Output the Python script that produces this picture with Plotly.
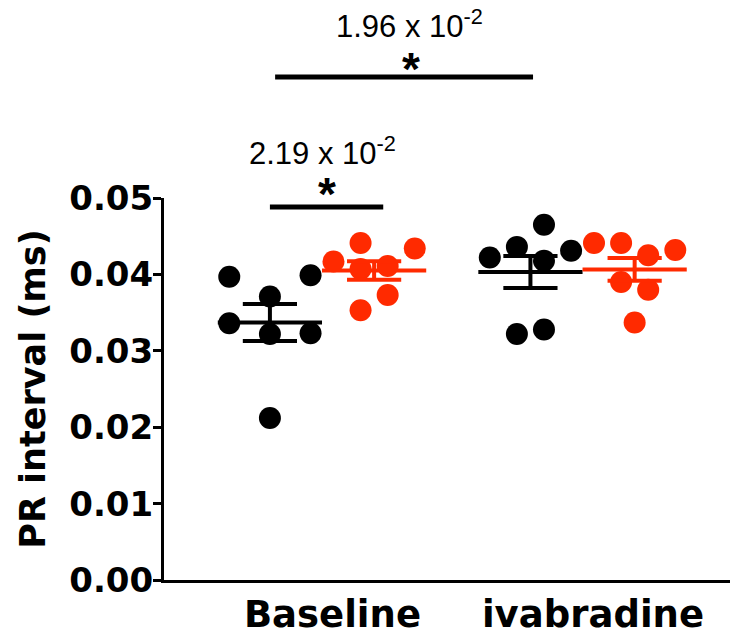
import numpy as np
import plotly.graph_objects as go

# ---------------- data ----------------
groups = ["Baseline", "ivabradine"]
baseline_black = [0.0397, 0.0399, 0.0371, 0.0336, 0.0322, 0.0323, 0.0212]
baseline_red = [0.0417, 0.0441, 0.0434, 0.0407, 0.0411, 0.0373, 0.0353]
ivabradine_black = [0.0422, 0.0436, 0.0465, 0.0418, 0.0431, 0.0322, 0.0328]
ivabradine_red = [0.0441, 0.0441, 0.0425, 0.0432, 0.0390, 0.0380, 0.0337]
y_ticks = [0.00, 0.01, 0.02, 0.03, 0.04, 0.05]
y_tick_labels = ["0.00", "0.01", "0.02", "0.03", "0.04", "0.05"]
p_top = "1.96 x 10<sup>-2</sup>"
p_low = "2.19 x 10<sup>-2</sup>"
y_title = "PR interval (ms)"

# ---------------- layout helpers (positions / styles) ----------------
BLACK = "#000000"
RED = "#ff2a00"
group_pos = [1.0, 2.0]
side_off = {"black": -0.2, "red": 0.2}
jit_step = 0.052
jitter = {
    ("Baseline", "black"): [-3, 3, 0, -3, 0, 3, 0],
    ("Baseline", "red"): [-3, -1, 3, -1, 1, 1, -1],
    ("ivabradine", "black"): [-3, -1, 1, 1, 3, -1, 1],
    ("ivabradine", "red"): [-3, -1, 1, 3, -1, 1, 0],
}
values = {
    ("Baseline", "black"): baseline_black,
    ("Baseline", "red"): baseline_red,
    ("ivabradine", "black"): ivabradine_black,
    ("ivabradine", "red"): ivabradine_red,
}
colors = {"black": BLACK, "red": RED}

fig = go.Figure()

# points
for gi, g in enumerate(groups):
    for side in ["black", "red"]:
        c = group_pos[gi] + side_off[side]
        v = values[(g, side)]
        xs = [c + j * jit_step for j in jitter[(g, side)]]
        fig.add_trace(go.Scatter(
            x=xs, y=v, mode="markers",
            marker=dict(size=22, color=colors[side], line=dict(width=0)),
            cliponaxis=False, showlegend=False, hoverinfo="y"))

# mean +/- SEM
for gi, g in enumerate(groups):
    for side in ["black", "red"]:
        c = group_pos[gi] + side_off[side]
        v = np.array(values[(g, side)])
        m = v.mean()
        sem = v.std(ddof=1) / np.sqrt(len(v))
        hw, cw = 0.2, 0.104
        xs = [c - hw, c + hw, None, c, c, None, c - cw, c + cw, None, c - cw, c + cw]
        ys = [m, m, None, m - sem, m + sem, None, m - sem, m - sem, None, m + sem, m + sem]
        fig.add_trace(go.Scatter(
            x=xs, y=ys, mode="lines",
            line=dict(color=colors[side], width=4),
            cliponaxis=False, showlegend=False, hoverinfo="skip"))

# significance bars
fig.add_shape(type="line", xref="x", yref="paper", x0=0.82, x1=1.81, y0=0.8672, y1=0.8672,
              line=dict(color=BLACK, width=5))
fig.add_shape(type="line", xref="x", yref="paper", x0=0.80, x1=1.235, y0=0.6431, y1=0.6431,
              line=dict(color=BLACK, width=5))

txt_font = dict(family="Liberation Sans, Arial", size=31, color=BLACK)
ast_font = dict(family="Liberation Sans, Arial", size=46, color=BLACK, weight="bold")
fig.add_annotation(x=1.336, y=0.959, xref="x", yref="paper", text=p_top, showarrow=False,
                   font=txt_font, xanchor="center", yanchor="middle")
fig.add_annotation(x=1.342, y=0.881, xref="x", yref="paper", text="*", showarrow=False,
                   font=ast_font, xanchor="center", yanchor="middle")
fig.add_annotation(x=1.0, y=0.740, xref="x", yref="paper", text=p_low, showarrow=False,
                   font=txt_font, xanchor="center", yanchor="middle")
fig.add_annotation(x=1.02, y=0.666, xref="x", yref="paper", text="*", showarrow=False,
                   font=ast_font, xanchor="center", yanchor="middle")

bold = dict(family="DejaVu Sans", color=BLACK, weight="bold")
fig.update_layout(
    width=730, height=639,
    margin=dict(l=164, r=0, t=0, b=59, autoexpand=False),
    paper_bgcolor="white", plot_bgcolor="white",
    xaxis=dict(range=[0.3935, 2.566], showline=True, linewidth=3, linecolor=BLACK,
               ticks="", tickvals=[1.04, 2.04], ticktext=groups,
               tickfont=dict(size=37, **bold), showgrid=False, zeroline=False,
               fixedrange=True),
    yaxis=dict(domain=[0, 382 / 580], range=[0, 0.05], showline=True, linewidth=3,
               linecolor=BLACK, ticks="outside", ticklen=8, tickwidth=3, tickcolor=BLACK,
               tickvals=y_ticks, ticktext=y_tick_labels, ticklabelstandoff=-7,
               tickfont=dict(size=34, **bold), showgrid=False, zeroline=False,
               title=dict(text=y_title, font=dict(size=35, **bold), standoff=14),
               fixedrange=True),
)

fig.write_html("out.html")
